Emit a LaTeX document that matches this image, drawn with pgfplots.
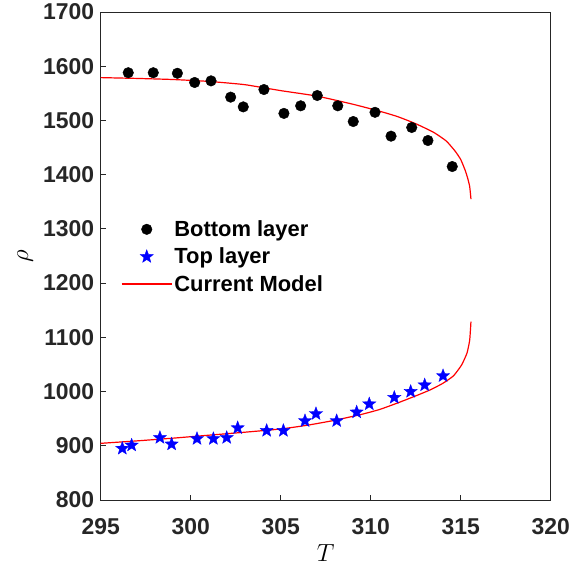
\documentclass[border=0pt]{standalone}
\usepackage{fontspec}
\setmainfont{Liberation Sans}
\usepackage{pgfplots}
\pgfplotsset{compat=1.18}
\definecolor{axgray}{RGB}{38,38,38}
\pgfdeclareplotmark{pstar}{%
  \pgfpathmoveto{\pgfpointpolar{90}{\pgfplotmarksize}}%
  \pgfpathlineto{\pgfpointpolar{126}{0.42\pgfplotmarksize}}%
  \pgfpathlineto{\pgfpointpolar{162}{\pgfplotmarksize}}%
  \pgfpathlineto{\pgfpointpolar{198}{0.42\pgfplotmarksize}}%
  \pgfpathlineto{\pgfpointpolar{234}{\pgfplotmarksize}}%
  \pgfpathlineto{\pgfpointpolar{270}{0.42\pgfplotmarksize}}%
  \pgfpathlineto{\pgfpointpolar{306}{\pgfplotmarksize}}%
  \pgfpathlineto{\pgfpointpolar{342}{0.42\pgfplotmarksize}}%
  \pgfpathlineto{\pgfpointpolar{18}{\pgfplotmarksize}}%
  \pgfpathlineto{\pgfpointpolar{54}{0.42\pgfplotmarksize}}%
  \pgfpathclose\pgfusepathqfillstroke}
\begin{document}
\begin{tikzpicture}
\begin{axis}[
  scale only axis, width=450bp, height=488bp,
  xmin=295, xmax=320, ymin=800, ymax=1700,
  xtick={295,300,...,320}, ytick={800,900,...,1700},
  axis line style={axgray, line width=0.8bp},
  tick style={axgray, line width=0.8bp},
  tick align=inside, major tick length=5bp,
  xtick pos=bottom, ytick pos=left,
  /pgf/number format/assume math mode=true,
  /pgf/number format/1000 sep={},
  ticklabel style={font=\fontsize{23}{26}\selectfont\bfseries, text=axgray},
  xticklabel style={yshift=-15bp},
  yticklabel style={xshift=-3bp},
  xlabel={$T$}, ylabel={$\rho$},
  label style={font=\fontsize{28}{30}\selectfont},
  xlabel style={at={(axis description cs:0.5,-0.1086)}, anchor=center},
  ylabel style={at={(axis description cs:-0.168,0.5)}, anchor=center},
  legend style={at={(0.045,0.577)}, anchor=north west, draw=none, fill=none,
    font=\fontsize{22}{24}\selectfont\bfseries, row sep=6bp,
    inner sep=0pt, nodes={inner sep=2bp}},
  legend cell align=left,
  legend image code/.code={\draw[mark repeat=2,mark phase=2,#1] plot coordinates {(0bp,0bp)(25bp,0bp)(50bp,0bp)};},
]
\addplot[only marks, mark=*, mark size=5.3bp, black] coordinates {
(296.53,1588) (297.92,1588) (299.26,1587) (300.22,1570) (301.13,1573)
(302.22,1543) (302.92,1525) (304.07,1557) (305.18,1513) (306.11,1527)
(307.03,1546) (308.17,1527) (309.03,1498) (310.24,1515) (311.13,1471)
(312.28,1487) (313.18,1463) (314.53,1415)
};
\addlegendentry{Bottom layer}
\addplot[only marks, mark=pstar, mark size=7bp, blue, mark options={line width=0.3bp}] coordinates {
(296.2,895) (296.72,901) (298.29,915) (298.94,903) (300.35,913)
(301.26,913) (302.0,915) (302.61,933) (304.22,928) (305.15,928)
(306.35,946) (306.96,959) (308.11,946) (309.22,962) (309.92,977)
(311.31,989) (312.22,1000) (313.0,1012) (314.02,1029)
};
\addlegendentry{Top layer}
\addplot[red, line width=1.2bp, smooth, tension=0.3] coordinates {
(295,1579) (297,1577.5) (299,1575.5) (301,1572) (303,1566) (305,1555)
(307,1545) (309,1530) (310.5,1517) (311.5,1507) (312.5,1494) (313.5,1478)
(314.2,1462) (314.7,1443) (315.0,1428) (315.25,1408) (315.4,1392)
(315.5,1378) (315.57,1355)
};
\addlegendentry{Current Model}
\addplot[red, line width=1.2bp, smooth, tension=0.3, forget plot] coordinates {
(295,904.5) (297,909) (299,914) (301,919.5) (303,925) (305,931) (306.5,938)
(308,947) (309.5,958) (310.5,967) (311.5,979) (312.5,992) (313.3,1003)
(314,1015) (314.6,1029) (315.05,1049) (315.35,1071) (315.5,1095) (315.57,1129)
};
\end{axis}
\pgfresetboundingbox
\path[use as bounding box] (-100.7bp,-70bp) rectangle (470.3bp,500bp);
\end{tikzpicture}
\end{document}
